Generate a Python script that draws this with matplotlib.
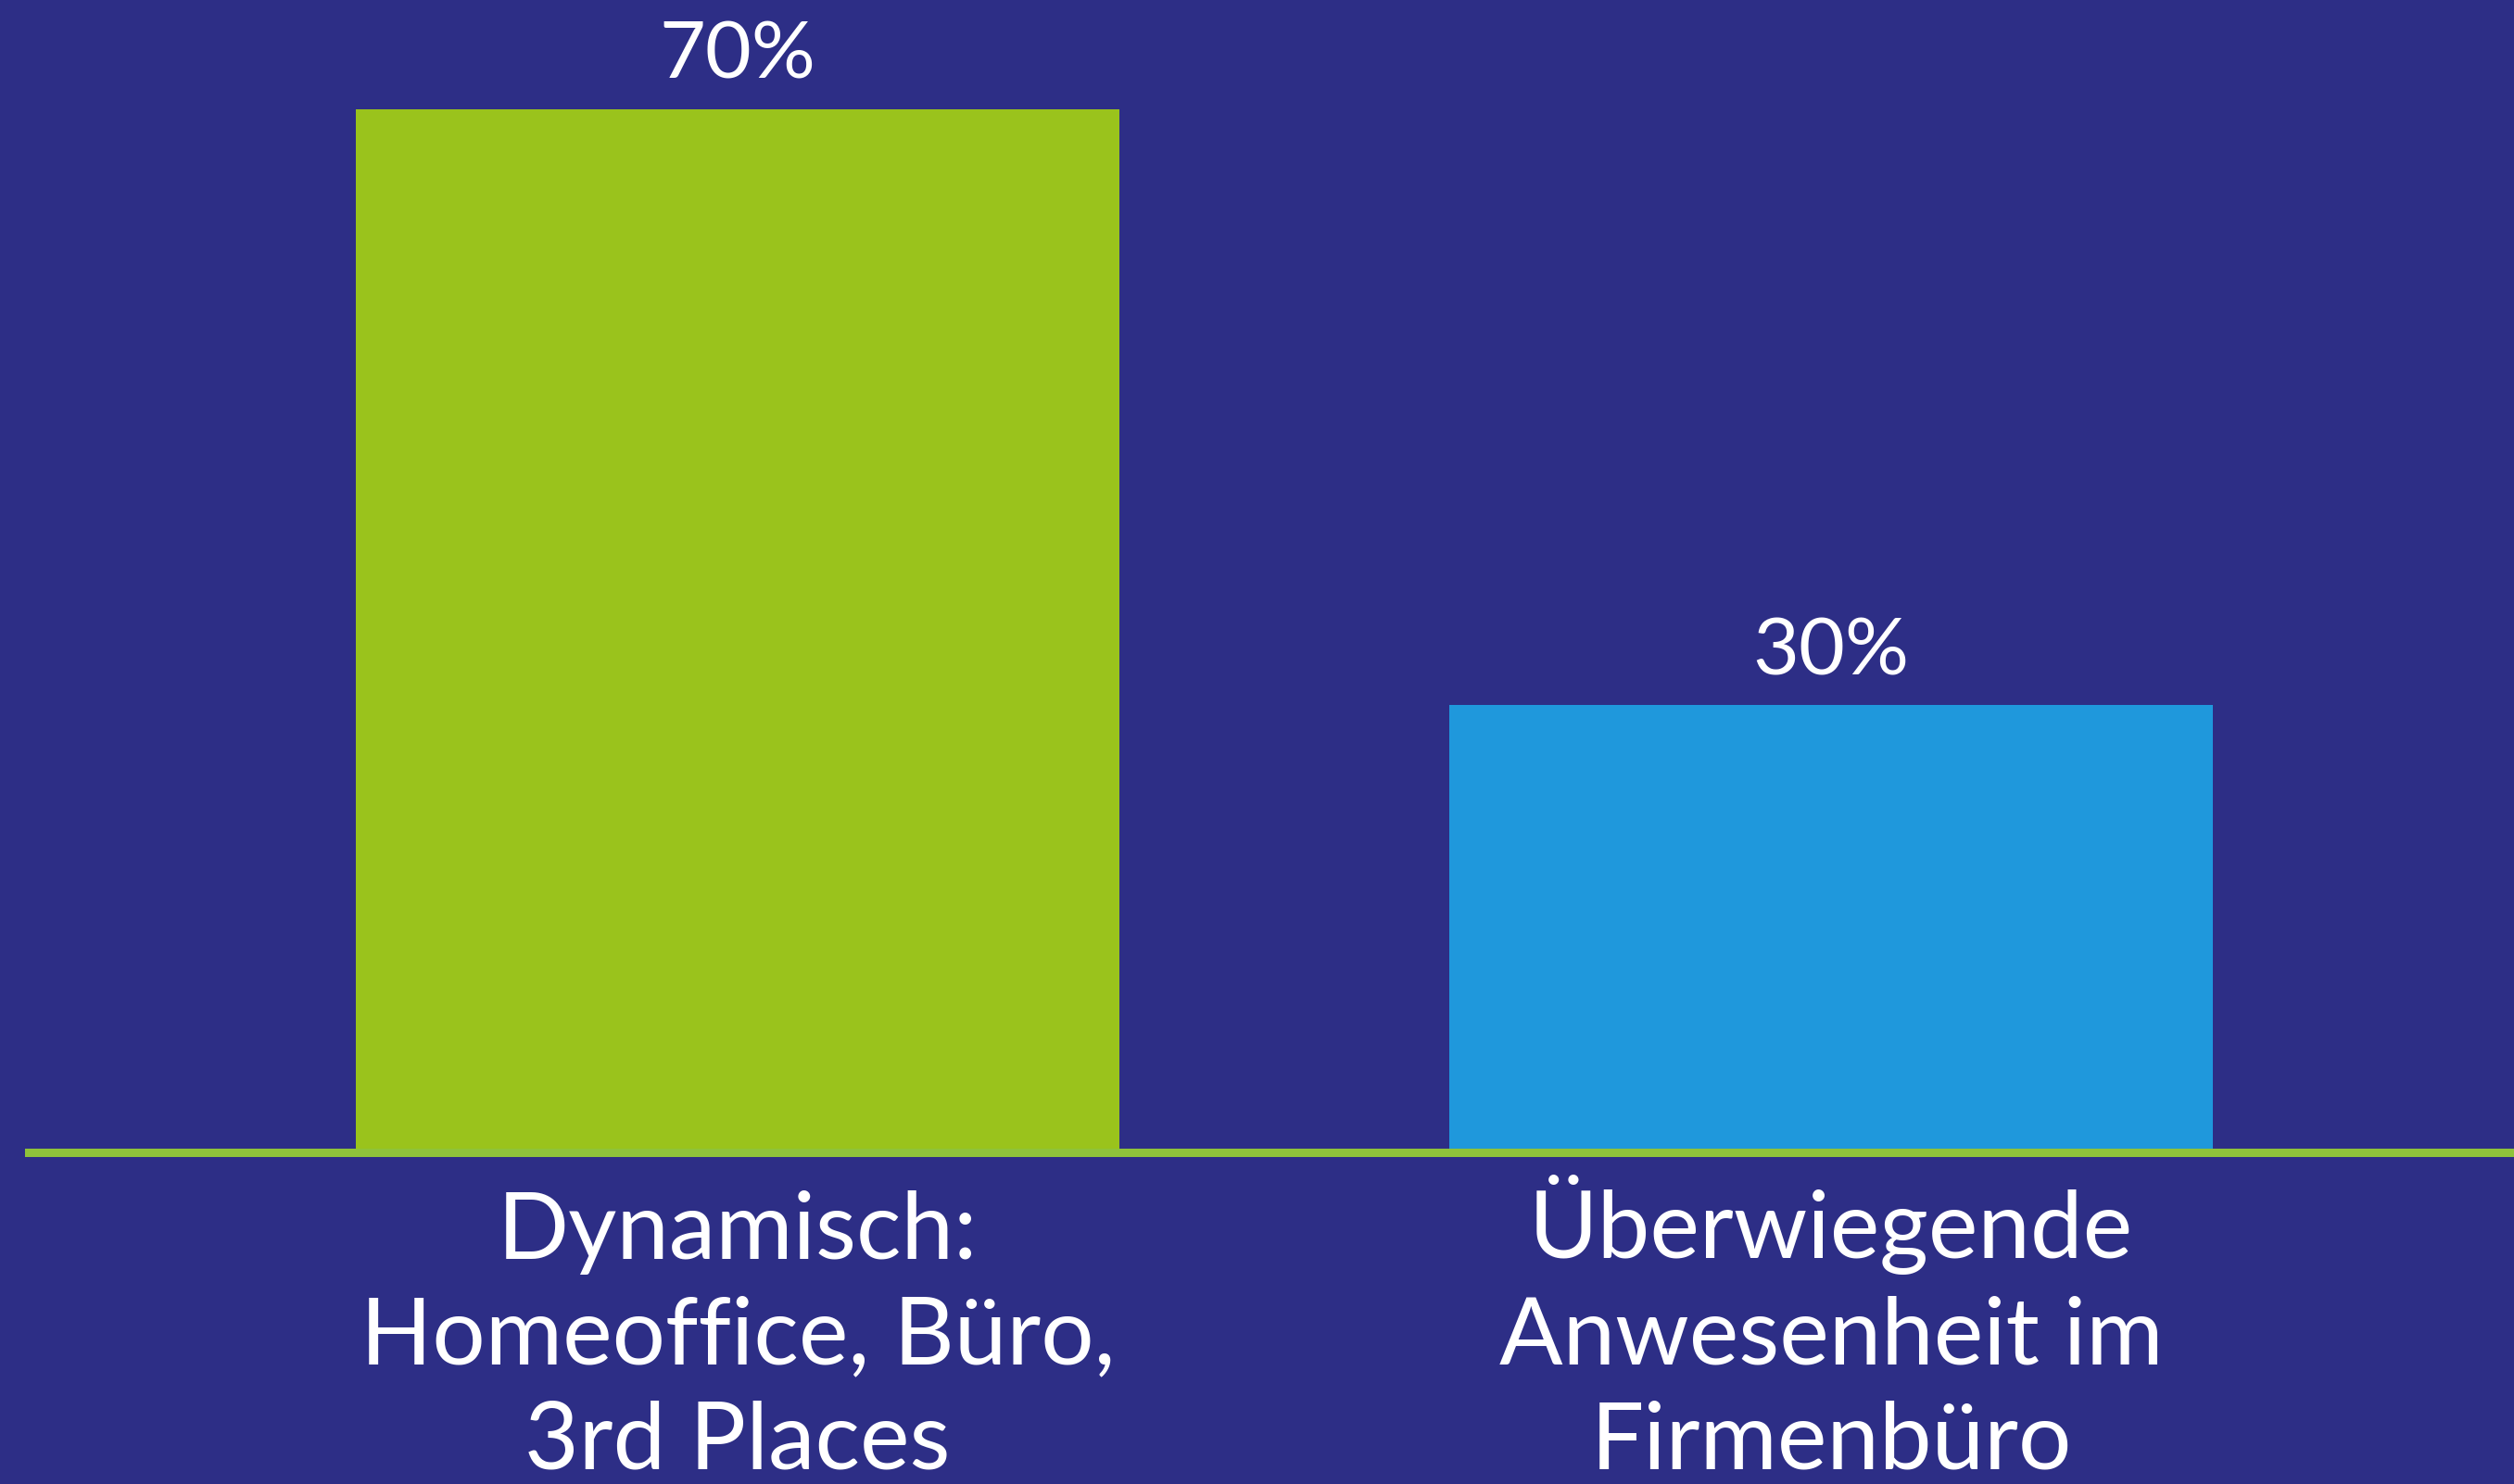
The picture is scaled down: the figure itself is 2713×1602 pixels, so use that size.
import matplotlib
matplotlib.use("Agg")
import matplotlib.pyplot as plt

categories = ["Dynamisch:\nHomeoffice, Büro,\n3rd Places",
              "Überwiegende\nAnwesenheit im\nFirmenbüro"]
values = [70, 30]
value_labels = ["70%", "30%"]

BG = "#2D2E86"
BAR_COLORS = ["#9AC31C", "#1F98DC"]
LINE_COLOR = "#8FC33A"

W, H = 2713, 1602
DPI = 100
fig = plt.figure(figsize=(W / DPI, H / DPI), dpi=DPI, facecolor=BG)

base_px = 1244
ax = fig.add_axes([0, (H - base_px) / H, 1, base_px / H])
ax.set_facecolor(BG)

spacing = 1180
c0 = 796
ax.set_xlim(-c0 / spacing, (W - c0) / spacing)
px_per_unit = (base_px - 118) / 70
ax.set_ylim(0, base_px / px_per_unit)

x = list(range(len(values)))
bars = ax.bar(x, values, width=0.698, color=BAR_COLORS, zorder=2)

ax.axhline(0, xmin=31 / W, xmax=1, color=LINE_COLOR, lw=6.5, zorder=3, clip_on=False)

font = "Lato"
for xi, v, lab in zip(x, values, value_labels):
    ax.annotate(lab, (xi, v), xytext=(0, 24), textcoords="offset points",
                ha="center", va="baseline", color="white", fontsize=62,
                family=font)

for xi, cat in zip(x, categories):
    ax.annotate(cat, (xi, 0), xytext=(0, -246), textcoords="offset points",
                ha="center", va="baseline", color="white", fontsize=73,
                family=font, linespacing=1.3,
                multialignment="center", annotation_clip=False)

ax.set_xticks([])
ax.set_yticks([])
for s in ax.spines.values():
    s.set_visible(False)

fig.savefig("out.png", dpi=DPI, facecolor=BG)
